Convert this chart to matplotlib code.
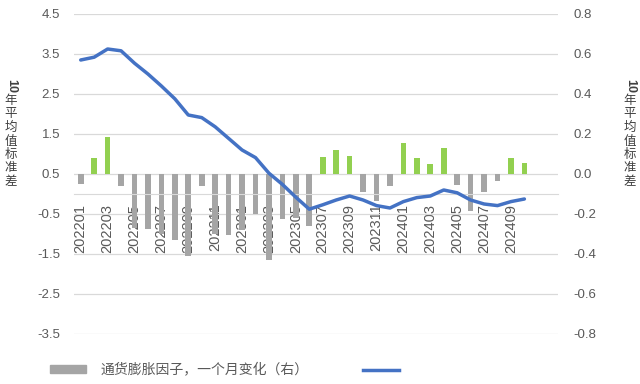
import numpy as np
import matplotlib
matplotlib.use("Agg")
import matplotlib.pyplot as plt
from matplotlib.patches import Patch
from matplotlib.lines import Line2D

plt.rcParams['font.family'] = ['Liberation Sans', 'Noto Sans CJK SC', 'DejaVu Sans']

# -- data --------------------------------------------------------------------
months = [f"{y}{m:02d}" for y in (2022, 2023) for m in range(1, 13)] + \
         [f"2024{m:02d}" for m in range(1, 11)]

# inflation factor, one-month change (right axis)
bar_vals = [-0.05, 0.08, 0.185, -0.06, -0.27, -0.275, -0.30, -0.33, -0.41, -0.06,
            -0.30, -0.305, -0.28, -0.20, -0.43, -0.227, -0.22, -0.258,
            0.087, 0.12, 0.092, -0.088, -0.135, -0.058,
            0.153, 0.078, 0.05, 0.132, -0.055, -0.183, -0.092, -0.033, 0.08, 0.057]

# 10-year mean std (left axis)
line_vals = [3.35, 3.42, 3.625, 3.58, 3.27, 3.0, 2.7, 2.38, 1.975, 1.91,
             1.68, 1.39, 1.1, 0.91, 0.52, 0.24, -0.08, -0.38,
             -0.27, -0.15, -0.05, -0.15, -0.29, -0.35,
             -0.19, -0.09, -0.05, 0.1, 0.03, -0.15, -0.25, -0.29, -0.19, -0.125]

left_ticks = [-3.5, -2.5, -1.5, -0.5, 0.5, 1.5, 2.5, 3.5, 4.5]
right_ticks = [-0.8, -0.6, -0.4, -0.2, 0.0, 0.2, 0.4, 0.6, 0.8]

GREEN = "#92D050"
GREY = "#A5A5A5"
BLUE = "#4472C4"
TXT = "#595959"
GRID = "#D9D9D9"

fig = plt.figure(figsize=(6.4, 3.84), dpi=100)
ax = fig.add_axes([74 / 640, 1 - 334 / 384, 484 / 640, 320 / 384])
ax2 = ax.twinx()

x = np.arange(len(months))

# move the category axis first: set_position resets the tick labels
ax.spines['bottom'].set_position(('data', -0.1))
ax.spines['bottom'].set_color(GRID)
for s in ('top', 'left', 'right'):
    ax.spines[s].set_visible(False)

# bars on the primary axes (right scale) so tick labels sit above them
colors = [GREEN if v > 0 else GREY for v in bar_vals]
ax.bar(x, bar_vals, width=0.42, color=colors, zorder=2)
ax.set_ylim(-0.8, 0.8)
ax.set_yticks(right_ticks)
ax.set_yticklabels([f"{t:.1f}" for t in right_ticks])
ax.yaxis.tick_right()
ax.grid(axis='y', color=GRID, lw=0.9, zorder=0)
ax.set_axisbelow(True)

ax.set_xlim(-0.5, 35.5)
ax.set_xticks(x[::2])
ax.set_xticklabels(months[::2], rotation=90, va='top', ha='center',
                   fontsize=10.5, color=TXT)
ax.tick_params(axis='x', length=0, pad=7)
ax.tick_params(axis='y', length=0, pad=11, labelsize=9.5, labelcolor=TXT)

# line on the twin (left scale)
ax2.plot(x, line_vals, color=BLUE, lw=2.5, solid_capstyle='round', zorder=3)
ax2.set_ylim(-3.5, 4.5)
ax2.set_yticks(left_ticks)
ax2.set_yticklabels([f"{t:.1f}" for t in left_ticks])
ax2.yaxis.tick_left()
ax2.tick_params(axis='y', length=0, pad=10, labelsize=9.5, labelcolor=TXT)
for s in ax2.spines.values():
    s.set_visible(False)

# stacked vertical titles on both sides
title_chars = "\n".join("年平均值标准差")
for xp in (11 / 640, 630 / 640):
    fig.text(xp, 1 - 86 / 384, "10", rotation=-90, ha='center', va='center',
             fontsize=9, color="#404040", fontweight='bold')
    fig.text(xp, 1 - 94 / 384, title_chars, ha='center', va='top', fontsize=9,
             color="#404040", linespacing=1.05, family=['Noto Sans CJK SC'])

handles = [Patch(color=GREY), Line2D([], [], color=BLUE, lw=2.5)]
fig.legend(handles, ["通货膨胀因子，一个月变化（右）", " "], ncol=2, frameon=False,
           loc='center left', bbox_to_anchor=(37 / 640, 1 - 370 / 384),
           handlelength=2.6, handleheight=0.45, handletextpad=1.1, columnspacing=3.9,
           prop={'family': ['Noto Sans CJK SC'], 'size': 10}, labelcolor=TXT)

fig.savefig("out.png", dpi=100)
